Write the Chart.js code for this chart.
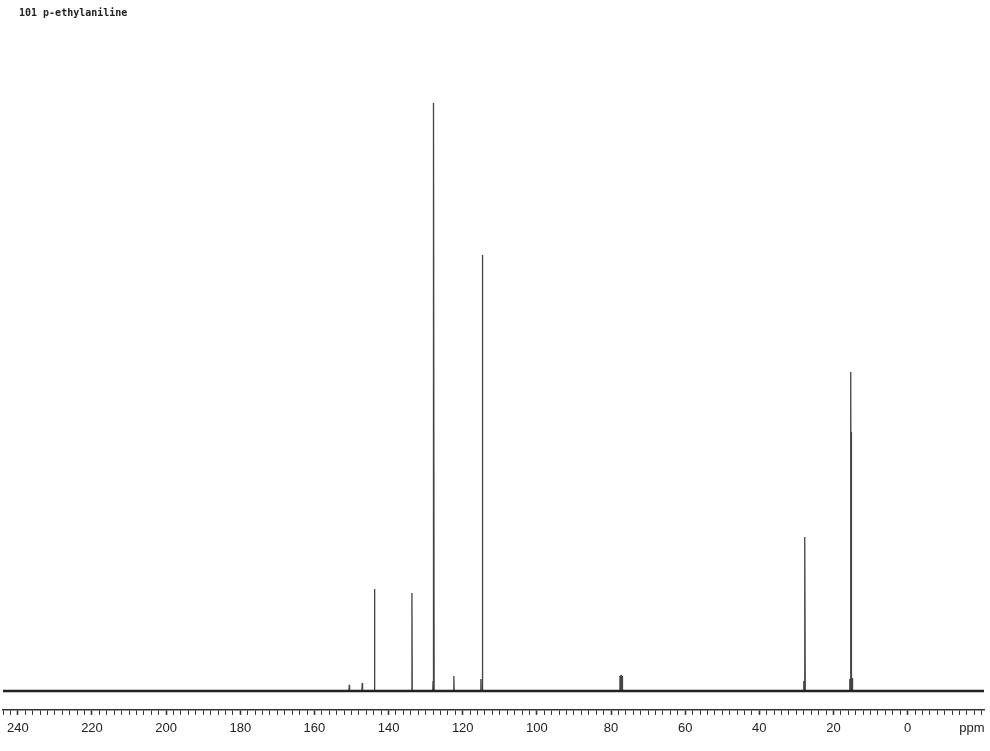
<!DOCTYPE html>
<html>
<head>
<meta charset="utf-8">
<script src="https://cdn.jsdelivr.net/npm/chart.js@4.4.1/dist/chart.umd.min.js"></script>
<style>
  html, body { margin: 0; padding: 0; background: #fff; }
  #wrap { width: 990px; height: 751px; }
</style>
</head>
<body>
<div id="wrap"><canvas id="nmrChart"></canvas></div>
<script>
// 13C spectrum of p-ethylaniline, peaks
const sampleName = '101 p-ethylaniline';
const axisUnit = 'ppm';
const ppmRange = [244, -20.6];
const peakPpm    = [150.6, 147.1, 143.8, 133.7, 128.0, 127.8, 127.9, 122.4, 115.1, 114.7, 77.6, 77.3, 77.0, 28.0, 27.7, 15.6, 15.3, 15.25, 14.9];
const peakHeight = [6,     8,     102,   98,    10,    588,   281,   15,    12,    436,   15,    16,    15,    10,   154,  12,   319,  259,   13];
const peakHalfWidth = 0.09;

// build the spectrum trace: flat baseline with a narrow line at every peak
const trace = [{ x: ppmRange[0], y: 0 }];
peakPpm.map((p, i) => ({ p, h: peakHeight[i] }))
    .sort((a, b) => b.p - a.p)
    .forEach(pk => {
        trace.push({ x: pk.p + peakHalfWidth, y: 0 });
        trace.push({ x: pk.p, y: pk.h });
        trace.push({ x: pk.p - peakHalfWidth, y: 0 });
    });
trace.push({ x: ppmRange[1], y: 0 });

const labelsPlugin = {
    id: 'labels',
    afterDraw(chart) {
        const ctx = chart.ctx;
        ctx.save();
        ctx.fillStyle = '#222';
        ctx.font = 'bold 10px "DejaVu Sans Mono"';
        ctx.textBaseline = 'middle';
        ctx.fillText(sampleName, 19, 13);
        ctx.fillStyle = '#222';
        ctx.font = '13px "Liberation Sans"';
        ctx.textAlign = 'center';
        ctx.fillText(axisUnit, 972, 728);
        ctx.restore();
    }
};

const isMajor = v => Math.abs(v % 20) < 1e-6 && v >= 0;

const nmrCtx = document.getElementById('nmrChart').getContext('2d');
const nmrChart = new Chart(nmrCtx, {
    type: 'line',
    data: {
        datasets: [{
            label: 'baseline',
            data: [{ x: ppmRange[0], y: 0 }, { x: ppmRange[1], y: 0 }],
            borderColor: '#222',
            borderWidth: 2.5,
            pointRadius: 0
        }, {
            label: 'spectrum',
            data: trace,
            borderColor: '#444',
            borderWidth: 1.3,
            pointRadius: 0,
            tension: 0
        }]
    },
    options: {
        responsive: true,
        maintainAspectRatio: false,
        animation: false,
        layout: { padding: { left: 3, right: 6, top: 10, bottom: 8.5 } },
        plugins: {
            legend: { display: false },
            tooltip: { enabled: false }
        },
        scales: {
            x: {
                type: 'linear',
                reverse: true,
                min: ppmRange[1],
                max: ppmRange[0],
                // keep the plot edges fixed, whatever the edge labels are
                afterFit: scale => { scale.paddingLeft = 0; scale.paddingRight = 0; },
                border: { display: true, color: '#333', width: 1.5 },
                grid: {
                    drawOnChartArea: false,
                    drawTicks: true,
                    tickLength: 5,
                    color: '#333',
                    tickWidth: c => (isMajor(c.tick.value) ? 1.6 : 1)
                },
                ticks: {
                    stepSize: 2,
                    includeBounds: false,
                    autoSkip: false,
                    maxRotation: 0,
                    maxTicksLimit: 1000,
                    padding: 6,
                    color: '#222',
                    font: { family: '"Liberation Sans"', size: 13 },
                    callback: v => (isMajor(v) ? Math.round(v) : '')
                }
            },
            y: {
                display: false,
                min: -19,
                max: 681
            }
        }
    },
    plugins: [labelsPlugin]
});
</script>
</body>
</html>
